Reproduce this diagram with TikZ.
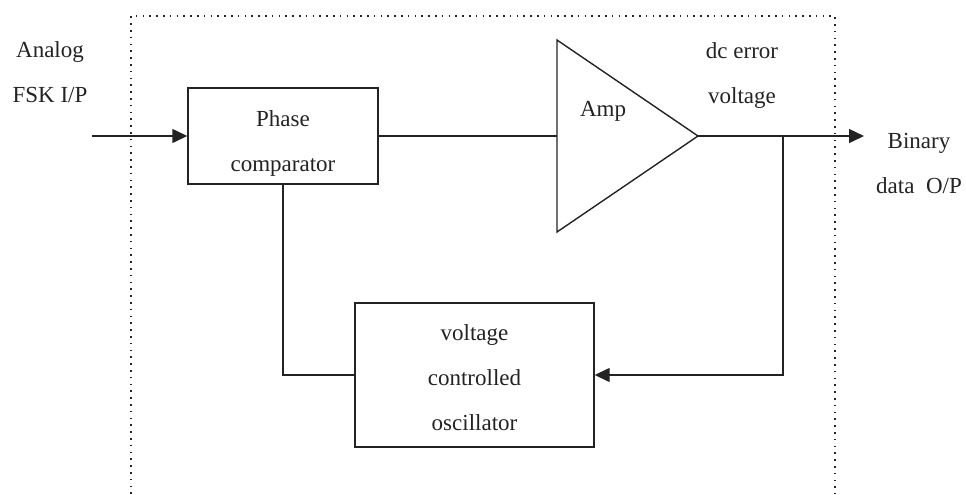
\documentclass[tikz,border=0pt]{standalone}
\usepackage{fontspec}
\setmainfont{Liberation Serif}
\usetikzlibrary{arrows.meta}
\definecolor{ink}{RGB}{35,35,35}
\begin{document}
\begin{tikzpicture}[x=0.5pt,y=-0.5pt, color=ink, line width=0.7pt,
  txt/.style={font=\fontsize{11.5}{22.5}\selectfont, align=center, inner sep=0pt, text=ink},
  blk/.style={draw=ink, line width=0.7pt, inner sep=0pt},
  arr/.style={-{Triangle[length=7.5pt,width=7pt]}},
  framed/.style={line width=0.8pt, dash pattern=on 0.8pt off 2.6pt}]
\useasboundingbox (0,0) rectangle (966,494);
% dotted frame
\draw[framed] (131,494) -- (131,16) -- (835,16) -- (835,494);
% blocks
\node[blk, minimum width=95pt, minimum height=48pt,
  label={[txt, yshift=-3.5pt]center:{Phase\\comparator}}] (pc) at (283,136) {};
\node[blk, minimum width=119.5pt, minimum height=72pt,
  label={[txt, yshift=-1.5pt]center:{voltage\\controlled\\oscillator}}] (vco) at (474.5,375) {};
% amplifier
\draw (557,40) -- (557,232) -- (698,136) -- cycle;
\coordinate (ampin) at (557,136);
\coordinate (ampout) at (698,136);
\node[txt] (amplbl) at (603,111) {Amp};
% labels
\node[txt] (inlbl) at (50,72) {Analog\\FSK I/P};
\node[txt] (dclbl) at (742,75) {dc error\\voltage};
\node[txt] (outlbl) at (919,163) {Binary\\data\ \ O/P};
% connectors
\coordinate (inL) at (92,136);
\coordinate (outR) at (864,136);
\coordinate (br) at (783,136);
\draw[arr] (inL) -- (pc.west);
\draw (pc.east) -- (ampin);
\draw[arr] (ampout) -- (outR);
\draw[arr] (br) |- (vco.east);
\draw (pc.south) |- (vco.west);
\end{tikzpicture}
\end{document}
